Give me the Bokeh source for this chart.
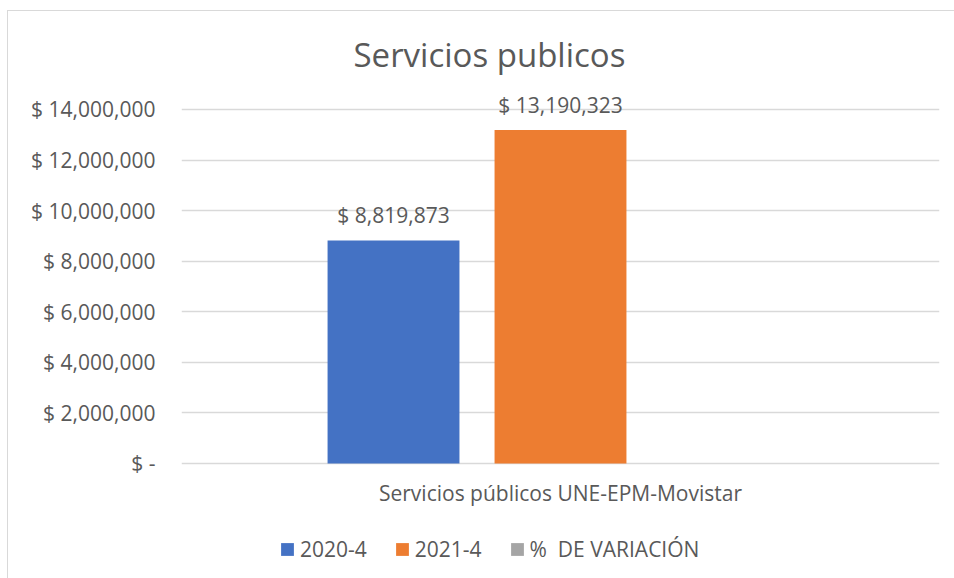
from bokeh.plotting import figure
from bokeh.models import (ColumnDataSource, FixedTicker, Legend, LegendItem,
                          Range1d)
from bokeh.embed import file_html
from bokeh.resources import INLINE
from bokeh.core.properties import value

title_text = "Servicios publicos"
categories = ["Servicios públicos UNE-EPM-Movistar"]
series_names = ["2020-4", "2021-4", "%  DE VARIACIÓN"]
series_values = [8819873, 13190323, 0.4955]
series_colors = ["#4472C4", "#ED7D31", "#A5A5A5"]
series_show_label = [True, True, False]
y_ticks = [0, 2000000, 4000000, 6000000, 8000000, 10000000, 12000000, 14000000]

FONT = "Open Sans"
TXT = "#595959"
GRID = "#D9D9D9"


def money(v):
    return "$ -" if v == 0 else "$ {:,.0f}".format(v)


# frame extends below zero so the legend (inside the frame) is not clipped
p = figure(frame_width=758, frame_height=488, output_backend="svg",
           toolbar_location=None,
           x_range=Range1d(0, 1), y_range=Range1d(-4548000, 14751000),
           min_border_left=173, min_border_right=15, min_border_top=79,
           min_border_bottom=0)
p.outline_line_color = None
p.background_fill_color = "white"
p.border_fill_color = "white"
p.styles = {"margin-left": "7px", "margin-top": "10px",
            "border-top": "1px solid #D9D9D9", "border-left": "1px solid #D9D9D9"}

# bars
n = len(series_values)
spacing = 0.2203
bar_w = 0.174
xs = [0.5 + (i - (n - 1) / 2) * spacing for i in range(n)]
items = []
for i in range(n):
    src = ColumnDataSource(dict(x=[xs[i]], top=[series_values[i]]))
    r = p.vbar(x="x", top="top", width=bar_w, bottom=0, source=src,
               fill_color=series_colors[i], line_color=None)
    items.append(LegendItem(label=series_names[i], renderers=[r]))
    if series_show_label[i]:
        lsrc = ColumnDataSource(dict(x=[xs[i]], y=[series_values[i]],
                                     t=[money(series_values[i])]))
        p.text(x="x", y="y", text="t", source=lsrc, text_align="center",
               text_baseline="middle", y_offset=-25,
               text_font=value(FONT), text_font_size="21px", text_color=TXT)

# axes
p.yaxis.ticker = FixedTicker(ticks=y_ticks)
p.yaxis.major_label_overrides = {t: money(t) for t in y_ticks}
p.yaxis.axis_line_color = None
p.yaxis.major_tick_line_color = None
p.yaxis.minor_tick_line_color = None
p.yaxis.major_tick_out = 0
p.yaxis.major_tick_in = 0
p.yaxis.major_label_standoff = 26
p.yaxis.major_label_text_font = FONT
p.yaxis.major_label_text_font_size = "21px"
p.yaxis.major_label_text_color = TXT

p.xaxis.fixed_location = 0
p.xaxis.ticker = FixedTicker(ticks=[0.5])
p.xaxis.major_label_overrides = {0.5: categories[0]}
p.xaxis.axis_line_color = None
p.xaxis.major_tick_line_color = None
p.xaxis.minor_tick_line_color = None
p.xaxis.major_tick_out = 0
p.xaxis.major_tick_in = 0
p.xaxis.major_label_standoff = 16
p.xaxis.major_label_text_font = FONT
p.xaxis.major_label_text_font_size = "21px"
p.xaxis.major_label_text_color = TXT

p.xgrid.grid_line_color = None
p.ygrid.grid_line_color = GRID
p.ygrid.grid_line_width = 1.5

p.title.text = title_text
p.title.align = "left"
p.title.offset = 172
p.title.text_font = FONT
p.title.text_font_size = "33px"
p.title.text_font_style = "normal"
p.title.text_color = TXT
p.title.standoff = 27

legend = Legend(items=items, orientation="horizontal",
                location=(98, 15),
                glyph_width=16, glyph_height=16, label_standoff=5, spacing=27,
                label_text_font=FONT, label_text_font_size="21px",
                label_text_color=TXT, border_line_color=None,
                background_fill_alpha=0, margin=0, padding=4)
p.add_layout(legend, "center")

open("out.html", "w").write(file_html(p, INLINE))
